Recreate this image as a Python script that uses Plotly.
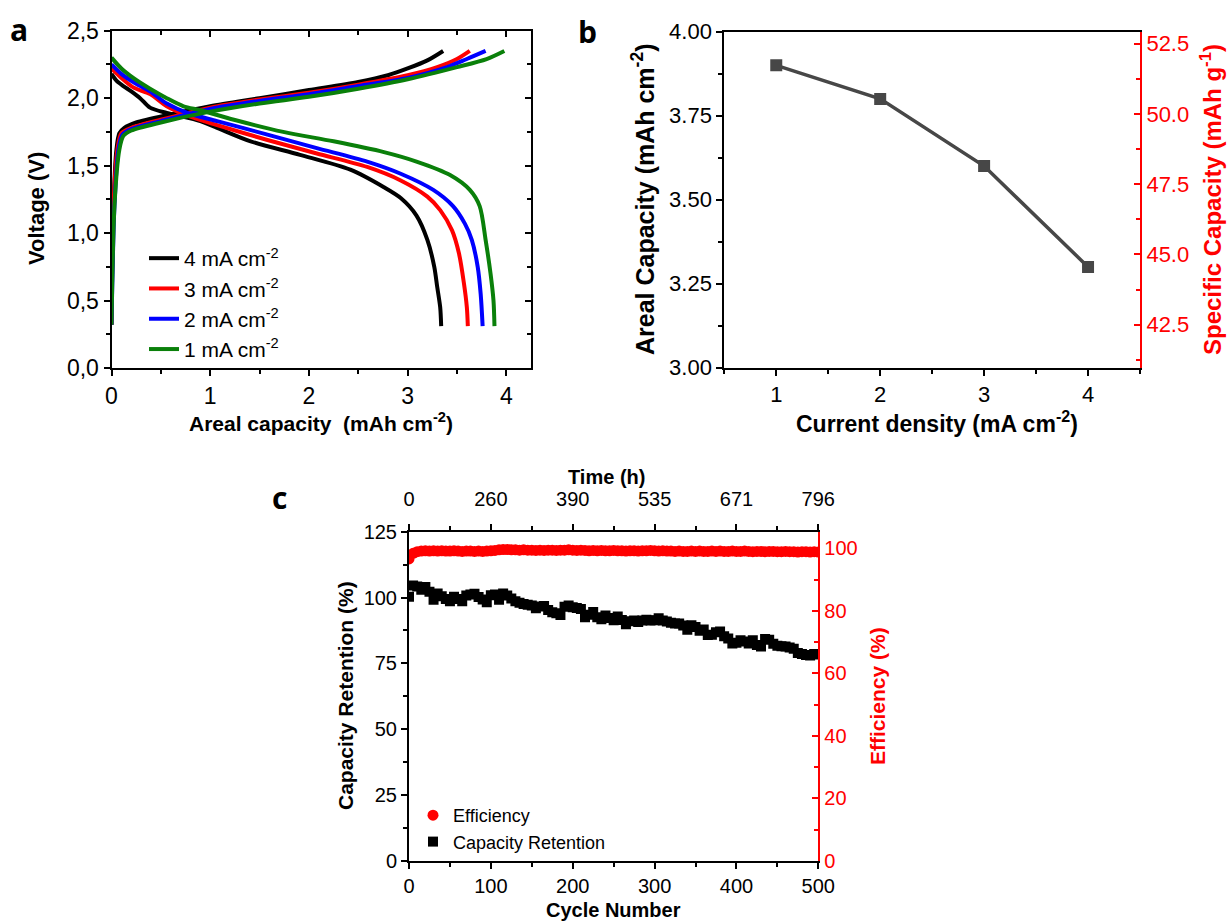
import plotly.graph_objects as go

W, H = 1229, 921


def fx(p):
    return p / W


def fy(p):
    return 1 - p / H


FONT = "Liberation Sans, Arial, sans-serif"
LETTER_FONT = "Open Sans, sans-serif"

# ---------------- Panel a data ----------------
labels_a = ["4 mA cm<sup>-2</sup>", "3 mA cm<sup>-2</sup>", "2 mA cm<sup>-2</sup>", "1 mA cm<sup>-2</sup>"]
colors_a = ["#000000", "#ff0000", "#0000ff", "#0a800a"]

chg_cap_4 = [0.0, 0.02, 0.05, 0.08, 0.13, 0.25, 0.6, 1.0, 1.5, 2.0, 2.5, 2.8, 3.0, 3.2, 3.36]
chg_v_4 = [0.32, 1.2, 1.62, 1.74, 1.78, 1.82, 1.88, 1.94, 2.00, 2.06, 2.12, 2.17, 2.22, 2.28, 2.35]
chg_cap_3 = [0.0, 0.02, 0.06, 0.10, 0.2, 0.5, 1.0, 1.5, 2.0, 2.5, 3.0, 3.3, 3.5, 3.63]
chg_v_3 = [0.32, 1.2, 1.62, 1.74, 1.78, 1.84, 1.93, 1.99, 2.04, 2.10, 2.17, 2.23, 2.29, 2.35]
chg_cap_2 = [0.0, 0.03, 0.07, 0.11, 0.2, 0.5, 1.0, 1.5, 2.0, 2.5, 3.0, 3.4, 3.6, 3.79]
chg_v_2 = [0.32, 1.2, 1.62, 1.73, 1.77, 1.83, 1.92, 1.98, 2.03, 2.09, 2.15, 2.23, 2.29, 2.35]
chg_cap_1 = [0.0, 0.03, 0.08, 0.12, 0.2, 0.5, 1.0, 1.5, 2.0, 2.5, 3.0, 3.5, 3.8, 3.98]
chg_v_1 = [0.32, 1.2, 1.62, 1.72, 1.76, 1.82, 1.90, 1.96, 2.01, 2.07, 2.14, 2.23, 2.29, 2.35]

dis_cap_4 = [0.0, 0.05, 0.12, 0.2, 0.29, 0.39, 0.56, 0.9, 1.07, 1.41, 1.91, 2.42, 2.76, 2.93, 3.09, 3.2, 3.27, 3.30, 3.33, 3.34]
dis_v_4 = [2.18, 2.13, 2.09, 2.05, 2.0, 1.93, 1.89, 1.83, 1.78, 1.68, 1.58, 1.47, 1.34, 1.26, 1.13, 0.95, 0.75, 0.60, 0.45, 0.31]
dis_cap_3 = [0.0, 0.1, 0.22, 0.39, 0.56, 0.77, 1.07, 1.58, 2.08, 2.59, 2.93, 3.2, 3.33, 3.45, 3.52, 3.57, 3.60, 3.61]
dis_v_3 = [2.22, 2.15, 2.08, 2.03, 1.94, 1.87, 1.80, 1.69, 1.59, 1.49, 1.39, 1.27, 1.17, 1.02, 0.85, 0.63, 0.45, 0.31]
dis_cap_2 = [0.0, 0.1, 0.22, 0.39, 0.56, 0.77, 1.07, 1.58, 2.08, 2.59, 2.93, 3.26, 3.46, 3.58, 3.65, 3.71, 3.74, 3.76]
dis_v_2 = [2.25, 2.18, 2.12, 2.05, 1.96, 1.89, 1.83, 1.73, 1.63, 1.53, 1.44, 1.32, 1.20, 1.07, 0.95, 0.75, 0.55, 0.31]
dis_cap_1 = [0.0, 0.1, 0.22, 0.39, 0.56, 0.73, 0.9, 1.24, 1.74, 2.25, 2.76, 3.09, 3.43, 3.63, 3.73, 3.79, 3.84, 3.87, 3.88]
dis_v_1 = [2.30, 2.22, 2.15, 2.07, 2.0, 1.94, 1.91, 1.84, 1.75, 1.68, 1.60, 1.53, 1.43, 1.32, 1.20, 0.95, 0.70, 0.50, 0.31]

v_tickvals = [0.0, 0.5, 1.0, 1.5, 2.0, 2.5]
v_ticktext = ["0,0", "0,5", "1,0", "1,5", "2,0", "2,5"]

# ---------------- Panel b data ----------------
current_density = [1, 2, 3, 4]
areal_capacity = [3.90, 3.80, 3.60, 3.30]

# ---------------- Panel c data ----------------
cycles = list(range(0, 501, 5))
capacity_retention = [
    100.3, 104.6, 104.2, 103.0, 104.0, 102.2, 99.2, 101.5, 100.5, 99.5,
    98.6, 100.3, 99.5, 98.6, 100.8, 101.2, 101.4, 100.2, 99.3, 98.2,
    100.9, 101.2, 99.2, 101.5, 100.8, 99.6, 98.6, 98.0, 97.6, 97.3,
    97.0, 95.9, 96.6, 96.8, 95.3, 94.4, 94.0, 93.4, 96.5, 97.0,
    96.3, 96.0, 95.7, 92.5, 93.5, 94.5, 92.5, 91.8, 93.2, 92.2,
    91.4, 92.8, 91.5, 89.9, 91.0, 91.3, 90.7, 91.3, 91.6, 91.3,
    91.4, 92.1, 91.3, 90.9, 90.4, 90.2, 90.2, 89.4, 87.8, 89.5,
    88.8, 87.4, 87.9, 85.8, 85.9, 86.8, 87.1, 85.3, 84.5, 82.6,
    82.8, 83.8, 83.3, 82.6, 83.8, 82.0, 81.4, 84.3, 84.0, 82.5,
    81.7, 81.5, 81.4, 81.0, 80.6, 79.0, 78.6, 78.2, 78.0, 78.6,
    78.4,
]
efficiency = [
    96.6, 98.4, 98.9, 99.1, 99.2, 99.1, 99.2, 99.1, 99.2, 99.1,
    99.1, 99.2, 99.1, 99.0, 99.1, 99.1, 99.0, 99.1, 99.0, 99.1,
    99.2, 99.3, 99.5, 99.6, 99.6, 99.5, 99.5, 99.4, 99.5, 99.4,
    99.4, 99.3, 99.4, 99.3, 99.4, 99.4, 99.3, 99.4, 99.4, 99.5,
    99.4, 99.3, 99.4, 99.3, 99.2, 99.3, 99.2, 99.3, 99.2, 99.2,
    99.3, 99.2, 99.2, 99.1, 99.2, 99.2, 99.1, 99.2, 99.2, 99.3,
    99.2, 99.1, 99.2, 99.1, 99.1, 99.0, 99.1, 99.0, 99.0, 99.1,
    99.0, 99.1, 99.0, 99.0, 99.1, 99.0, 99.1, 99.0, 99.0, 99.1,
    99.0, 99.0, 99.1, 99.0, 98.9, 99.0, 99.0, 98.9, 99.0, 99.0,
    98.9, 98.9, 99.0, 98.9, 98.9, 98.8, 98.9, 98.9, 98.8, 98.9,
    98.8,
]
cycle_tickvals = [0, 100, 200, 300, 400, 500]
time_ticktext = ["0", "260", "390", "535", "671", "796"]

fig = go.Figure()

# Panel a traces
charges = [(chg_cap_4, chg_v_4), (chg_cap_3, chg_v_3), (chg_cap_2, chg_v_2), (chg_cap_1, chg_v_1)]
discharges = [(dis_cap_4, dis_v_4), (dis_cap_3, dis_v_3), (dis_cap_2, dis_v_2), (dis_cap_1, dis_v_1)]
for i in range(4):
    fig.add_trace(go.Scatter(
        x=discharges[i][0], y=discharges[i][1], mode="lines", name=labels_a[i],
        line=dict(color=colors_a[i], width=4, shape="spline", smoothing=0.8),
        legendgroup=f"a{i}", showlegend=True, legend="legend", xaxis="x", yaxis="y"))
    fig.add_trace(go.Scatter(
        x=charges[i][0], y=charges[i][1], mode="lines", name=labels_a[i],
        line=dict(color=colors_a[i], width=4, shape="spline", smoothing=0.8),
        legendgroup=f"a{i}", showlegend=False, xaxis="x", yaxis="y"))

# Panel b
fig.add_trace(go.Scatter(
    x=current_density, y=areal_capacity, mode="lines+markers",
    line=dict(color="#474747", width=3.5),
    marker=dict(symbol="square", size=12, color="#474747"),
    showlegend=False, xaxis="x2", yaxis="y2"))

# Panel c
fig.add_trace(go.Scatter(
    x=cycles, y=efficiency, mode="markers", name="Efficiency",
    marker=dict(symbol="circle", size=11, color="#ff0000"),
    legend="legend2", xaxis="x3", yaxis="y5"))
fig.add_trace(go.Scatter(
    x=cycles, y=capacity_retention, mode="markers", name="Capacity Retention",
    marker=dict(symbol="square", size=10, color="#000000"),
    legend="legend2", xaxis="x3", yaxis="y4"))

# Empty placeholder traces so that the secondary / mirrored axes are drawn
for xa, ya in [("x2", "y3"), ("x4", "y4"), ("x5", "y"), ("x", "y6")]:
    fig.add_trace(go.Scatter(x=[None], y=[None], mode="markers", showlegend=False,
                             hoverinfo="skip", xaxis=xa, yaxis=ya))

tickfont_a = dict(family=FONT, size=23, color="black")
tickfont_b = dict(family=FONT, size=22, color="black")
tickfont_c = dict(family=FONT, size=20, color="black")

common = dict(showgrid=False, zeroline=False, linecolor="black", linewidth=2,
              tickcolor="black", tickwidth=2, ticklen=6, ticks="outside")

fig.update_layout(
    width=W, height=H, margin=dict(l=0, r=0, t=0, b=0, pad=0, autoexpand=False),
    paper_bgcolor="white", plot_bgcolor="rgba(0,0,0,0)",
    font=dict(family=FONT, color="black"),
    # ---- panel a ----
    xaxis=dict(domain=[fx(111.5), fx(531)], range=[0, 4.25], anchor="y",
               dtick=1, tick0=0, tickfont=tickfont_a, mirror=True,
               minor=dict(ticks="outside", dtick=0.5, tick0=0, ticklen=4, tickcolor="black", tickwidth=2),
               **common),
    yaxis=dict(domain=[fy(368), fy(30.7)], range=[0, 2.5], anchor="x",
               tickmode="array", tickvals=v_tickvals, ticktext=v_ticktext,
               tickfont=tickfont_a, mirror=True,
               minor=dict(ticks="outside", tickmode="linear", dtick=0.25, tick0=0, ticklen=4, tickcolor="black", tickwidth=2),
               **common),
    xaxis5=dict(overlaying="x", side="top", anchor="y", range=[0, 4.25], dtick=1, tick0=0,
                showticklabels=False, showgrid=False, zeroline=False, showline=False,
                ticks="inside", ticklen=6, tickwidth=2, tickcolor="black",
                minor=dict(ticks="inside", dtick=0.5, tick0=0, ticklen=4, tickcolor="black", tickwidth=2)),
    yaxis6=dict(overlaying="y", side="right", anchor="x", range=[0, 2.5], dtick=0.5, tick0=0,
                showticklabels=False, showgrid=False, zeroline=False, showline=False,
                ticks="inside", ticklen=6, tickwidth=2, tickcolor="black",
                minor=dict(ticks="inside", dtick=0.25, tick0=0, ticklen=4, tickcolor="black", tickwidth=2)),
    # ---- panel b ----
    xaxis2=dict(domain=[fx(724.3), fx(1140)], range=[0.5, 4.5], anchor="y2",
                dtick=1, tick0=0, tickfont=tickfont_b, mirror=True,
                minor=dict(ticks="outside", dtick=0.5, tick0=0, ticklen=4, tickcolor="black", tickwidth=2),
                **common),
    yaxis2=dict(domain=[fy(367.7), fy(31.7)], range=[3.0, 4.0], anchor="x2",
                dtick=0.25, tick0=3.0, tickformat=".2f", tickfont=tickfont_b,
                minor=dict(ticks="outside", dtick=0.125, tick0=3.0, ticklen=4, tickcolor="black", tickwidth=2),
                **common),
    yaxis3=dict(overlaying="y2", side="right", anchor="x2", range=[40.97, 52.92],
                dtick=2.5, tick0=42.5, tickformat=".1f",
                tickfont=dict(family=FONT, size=22, color="#ff0000"),
                showgrid=False, zeroline=False, showline=True, linecolor="#ff0000", linewidth=2,
                ticks="inside", ticklen=6, tickwidth=2, tickcolor="#ff0000",
                minor=dict(ticks="inside", dtick=1.25, tick0=42.5, ticklen=4, tickcolor="#ff0000", tickwidth=2)),
    # ---- panel c ----
    xaxis3=dict(domain=[fx(409), fx(818.3)], range=[0, 500], anchor="y4",
                dtick=100, tick0=0, tickfont=tickfont_c,
                minor=dict(ticks="outside", dtick=50, tick0=0, ticklen=4, tickcolor="black", tickwidth=2),
                **common),
    yaxis4=dict(domain=[fy(861), fy(531.7)], range=[0, 125], anchor="x3",
                dtick=25, tick0=0, tickfont=tickfont_c,
                minor=dict(ticks="outside", dtick=12.5, tick0=0, ticklen=4, tickcolor="black", tickwidth=2),
                **common),
    yaxis5=dict(overlaying="y4", side="right", anchor="x3", range=[0, 105.3],
                dtick=20, tick0=0,
                tickfont=dict(family=FONT, size=20, color="#ff0000"),
                showgrid=False, zeroline=False, showline=True, linecolor="#ff0000", linewidth=2,
                ticks="inside", ticklen=6, tickwidth=2, tickcolor="#ff0000",
                minor=dict(ticks="inside", dtick=10, tick0=0, ticklen=4, tickcolor="#ff0000", tickwidth=2)),
    xaxis4=dict(overlaying="x3", side="top", anchor="y4", range=[0, 500],
                tickmode="array", tickvals=cycle_tickvals, ticktext=time_ticktext,
                tickfont=tickfont_c, ticklabelstandoff=10,
                minor=dict(ticks="outside", tickmode="linear", dtick=50, tick0=0, ticklen=4, tickcolor="black", tickwidth=2),
                **common),
    legend=dict(x=fx(144), y=fy(238), xanchor="left", yanchor="top",
                font=dict(family=FONT, size=21, color="black"),
                bgcolor="rgba(0,0,0,0)", tracegroupgap=1, traceorder="normal"),
    legend2=dict(x=fx(413), y=fy(797), xanchor="left", yanchor="top",
                 font=dict(family=FONT, size=18, color="black"),
                 bgcolor="rgba(0,0,0,0)", traceorder="normal"),
)

ann = []


def add_text(text, x, y, size, color="black", angle=0, bold=True, family=FONT):
    t = f"<b>{text}</b>" if bold else text
    ann.append(dict(text=t, x=fx(x), y=fy(y), xref="paper", yref="paper",
                    xanchor="center", yanchor="middle", showarrow=False, textangle=angle,
                    font=dict(family=family, size=size, color=color)))


# Panel letters
add_text("a", 19, 29, 30, family=LETTER_FONT)
add_text("b", 587, 31, 30, family=LETTER_FONT)
add_text("c", 279, 497, 30, family=LETTER_FONT)

# Panel a titles
add_text("Voltage (V)", 36, 209, 22, angle=-90)
add_text("Areal capacity  (mAh cm<sup>-2</sup>)", 321, 422, 21)

# Panel b titles
add_text("Areal Capacity (mAh cm<sup>-2</sup>)", 643, 199, 25, angle=-90)
add_text("Specific Capacity (mAh g<sup>-1</sup>)", 1211, 200, 24, color="#ff0000", angle=-90)
add_text("Current density (mA cm<sup>-2</sup>)", 937, 422, 23)

# Panel c titles
add_text("Time (h)", 606, 477, 20)
add_text("Cycle Number", 613, 910, 20)
add_text("Capacity Retention (%)", 345, 696, 21, angle=-90)
add_text("Efficiency (%)", 877, 696, 21, color="#ff0000", angle=-90)

fig.update_layout(annotations=ann)

fig.write_html(
    "out.html",
    config={"displayModeBar": False},
    post_script="document.body.style.margin='0px';document.body.style.overflow='hidden';",
)
